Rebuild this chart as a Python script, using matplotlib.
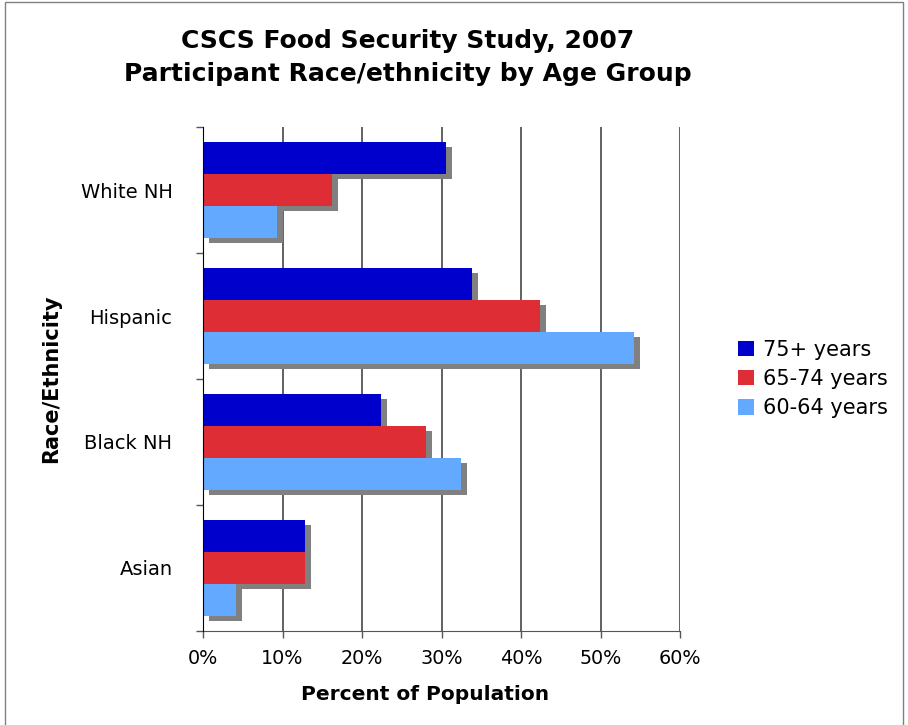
import matplotlib.pyplot as plt
import matplotlib.patheffects as pe
from matplotlib.patches import Rectangle, Patch
import numpy as np

# Race/ethnicity groups, bottom to top
groups = ['Asian', 'Black NH', 'Hispanic', 'White NH']
age_groups = ['75+ years', '65-74 years', '60-64 years']
pct_75plus = [12.8, 22.4, 33.8, 30.6]
pct_65_74 = [12.8, 28.0, 42.4, 16.2]
pct_60_64 = [4.2, 32.5, 54.2, 9.3]
x_ticks = [0, 10, 20, 30, 40, 50, 60]
x_tick_labels = ['0%', '10%', '20%', '30%', '40%', '50%', '60%']

colors = ['#0000cc', '#de2d35', '#62a9ff']
series = [pct_75plus, pct_65_74, pct_60_64]

fig = plt.figure(figsize=(9.08, 7.25), dpi=100)
ax = fig.add_axes([0.2236, 0.1297, 0.5254, 0.6951])

y = np.arange(len(groups))
h = 0.254
shadow = [pe.SimplePatchShadow(offset=(4.3, -3.6), shadow_rgbFace='#808080', alpha=1.0),
          pe.Normal()]
for i, (vals, c) in enumerate(zip(series, colors)):
    ax.barh(y + (1 - i) * h, vals, height=h, color=c,
            linewidth=0, path_effects=shadow, zorder=3)

ax.set_xlim(0, 60)
ax.set_ylim(-0.5, len(groups) - 0.5)
ax.set_xticks(x_ticks)
ax.set_xticklabels(x_tick_labels, fontsize=13.8)
ax.set_yticks(y)
ax.set_yticklabels(groups, fontsize=14)
ax.set_yticks(np.arange(-0.5, len(groups)), minor=True)
ax.tick_params(axis='y', which='major', length=0, pad=22)
ax.tick_params(axis='y', which='minor', length=5, width=1, color='#555555')
ax.tick_params(axis='x', length=5, width=1, color='#555555', pad=8)

ax.grid(axis='x', color='#555555', linewidth=1.3, zorder=0)
for s in ['top', 'right']:
    ax.spines[s].set_visible(False)
ax.spines['left'].set_color('black')
ax.spines['left'].set_zorder(4)
ax.spines['bottom'].set_color('#555555')

ax.set_xlabel('Percent of Population', fontsize=14.5, fontweight='bold')
ax.xaxis.set_label_coords(0.466, -0.108)
ax.set_ylabel('Race/Ethnicity', fontsize=15, fontweight='bold')
ax.yaxis.set_label_coords(-0.297, 0.5)

fig.text(0.449, 0.921, 'CSCS Food Security Study, 2007\nParticipant Race/ethnicity by Age Group',
         ha='center', va='center', fontsize=18, fontweight='bold', linespacing=1.45)

handles = [Patch(facecolor=c, edgecolor='none') for c in colors]
ax.legend(handles, age_groups, loc='center left', bbox_to_anchor=(1.082, 0.5),
          frameon=False, fontsize=15, handlelength=0.75, handleheight=0.75,
          handletextpad=0.45, labelspacing=0.45)

# thin frame around the whole figure
fig.patches.append(Rectangle((0.005, -0.01), 0.99, 1.007, transform=fig.transFigure,
                             fill=False, edgecolor='#808080', linewidth=1))

fig.savefig('out.png', dpi=100)
